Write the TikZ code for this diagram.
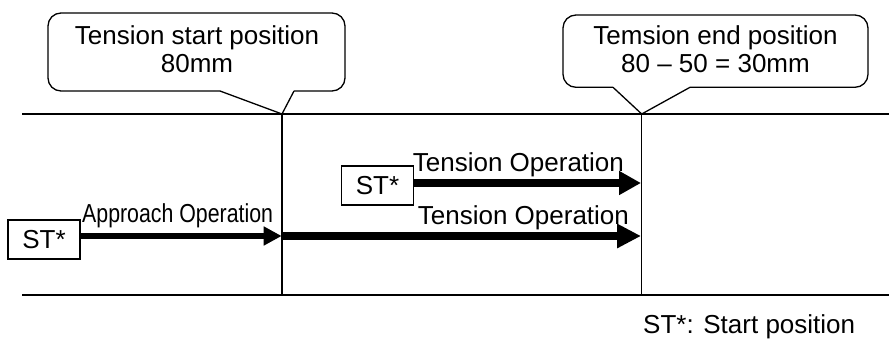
\documentclass[tikz,border=0pt]{standalone}
\usepackage{fontspec}
\setmainfont{Liberation Sans}
\newfontfamily\narrowfont[FakeStretch=0.82]{Liberation Sans}
\usetikzlibrary{arrows.meta}
\begin{document}
\begin{tikzpicture}[x=1pt,y=-1pt,
  every node/.style={font=\fontsize{26}{28}\selectfont},
  thinline/.style={line width=1.3pt},
  stbox/.style={draw,line width=1.3pt,minimum width=72pt,minimum height=39pt,inner sep=0pt},
  lbl/.style={inner sep=0pt},
  callout/.style={line width=1.3pt,rounded corners=13pt},
  pointer/.style={line width=1.3pt,line join=miter},
  oparrow/.style={line width=7.3pt,-{Triangle[length=24pt,width=23pt]}},
  smallarrow/.style={line width=6.3pt,-{Triangle[length=18pt,width=18pt]}}]
\useasboundingbox (0,0) rectangle (889,338);

% frame lines
\coordinate (hl1) at (22,114);  \coordinate (hr1) at (889,114);
\coordinate (hl2) at (22,295);  \coordinate (hr2) at (889,295);
\coordinate (v1t) at (282,114); \coordinate (v1b) at (282,295);
\coordinate (v2t) at (641.7,114); \coordinate (v2b) at (641.7,295);
\draw[thinline] (hl1) -- (hr1);
\draw[thinline] (hl2) -- (hr2);
\draw[thinline] (v1t) -- (v1b);
\draw[thinline] (v2t) -- (v2b);

% callout 1
\draw[callout] (220,91) -- (48,91) -- (48,13) -- (345,13) -- (345,91) -- (294,91);
\draw[pointer] (220,91) -- (v1t) -- (294,91);
\node[align=center] (c1) at (197,49.5) {Tension start position\\80mm};

% callout 2
\draw[callout] (613,87.3) -- (563,87.3) -- (563,15) -- (868,15) -- (868,87.3) -- (690,87.3);
\draw[pointer] (613,87.3) -- (v2t) -- (690,87.3);
\node[align=center] (c2) at (715.5,49) {Temsion end position\\80 – 50 = 30mm};

% start boxes
\node[stbox] (st1) at (44,239.5) {ST*};
\node[stbox] (st2) at (377.5,185.5) {ST*};

% arrows
\coordinate (a1e) at (281.7,236);
\coordinate (a2s) at (283.3,236);
\coordinate (a2e) at (641,236);
\coordinate (a3e) at (641,183);
\draw[smallarrow] ([yshift=3.5pt]st1.east) -- (a1e);
\draw[oparrow] (a2s) -- (a2e);
\draw[oparrow,-{Triangle[length=22pt,width=22.7pt]}] ([yshift=2.5pt]st2.east) -- (a3e);

% labels
\node[lbl,anchor=base west,font=\narrowfont\fontsize{26}{28}\selectfont] (lapp) at (82,222.7) {Approach Operation};
\node[lbl,anchor=base west] (lten1) at (412.7,171) {Tension Operation};
\node[lbl,anchor=base west] (lten2) at (417.7,224.3) {Tension Operation};
\node[lbl,anchor=base west] (legend) at (643,333.3) {ST*: Start position};
\end{tikzpicture}
\end{document}
